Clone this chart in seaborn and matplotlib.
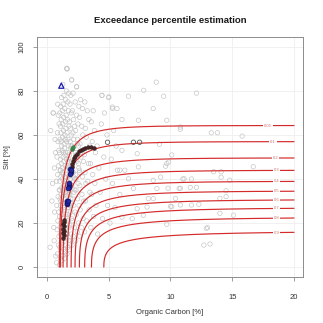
import numpy as np
import pandas as pd
import matplotlib
matplotlib.use("Agg")
import matplotlib.pyplot as plt
import seaborn as sns

# ---- observations: organic carbon [%] vs silt [%] ----
oc_obs = [
    0.25, 0.40, 0.50, 0.55, 0.60, 0.65, 0.30, 0.70, 0.45, 0.62, 0.68, 0.58,
    0.78, 0.85, 0.92, 0.97, 0.82, 0.88, 0.95, 0.80, 0.90, 0.99, 0.76, 0.86, 0.93, 0.81, 0.96, 0.89, 0.84, 0.98, 0.91, 0.87,
    1.02, 1.08, 1.15, 1.04, 1.18, 1.11, 1.06, 1.13, 1.01, 1.17, 1.09, 1.05, 1.14, 1.19, 1.03, 1.12, 1.07, 1.16, 1.10, 1.02, 1.18, 1.06, 1.13, 1.09, 1.15, 1.04, 1.11, 1.17,
    1.22, 1.28, 1.35, 1.24, 1.38, 1.31, 1.26, 1.33, 1.21, 1.37, 1.29, 1.25, 1.34, 1.39, 1.23, 1.32, 1.27, 1.36, 1.30, 1.22, 1.38, 1.26, 1.33, 1.29, 1.35, 1.24, 1.31, 1.37, 1.28,
    1.42, 1.48, 1.55, 1.44, 1.58, 1.51, 1.46, 1.53, 1.41, 1.57, 1.49, 1.45, 1.54, 1.59, 1.43, 1.52, 1.47, 1.56, 1.50, 1.42, 1.58, 1.46, 1.53, 1.49, 1.55, 1.44, 1.51, 1.57,
    1.62, 1.68, 1.75, 1.64, 1.78, 1.71, 1.66, 1.73, 1.61, 1.77, 1.69, 1.65, 1.74, 1.79, 1.63, 1.72, 1.67, 1.76, 1.70, 1.62, 1.78, 1.66, 1.73, 1.69, 1.75, 1.62,
    1.82, 1.88, 1.95, 1.84, 1.98, 1.91, 1.86, 1.93, 1.81, 1.97, 1.89, 1.85, 1.94, 1.99, 1.83, 1.92, 1.87, 1.96, 1.90, 1.82, 1.98, 1.86, 1.93, 2.00,
    2.03, 2.12, 2.22, 2.06, 2.27, 2.16, 2.09, 2.19, 2.02, 2.25, 2.13, 2.07, 2.21, 2.29, 2.04, 2.17, 2.10, 2.24, 2.14, 2.05, 2.28, 2.11,
    2.33, 2.45, 2.56, 2.38, 2.59, 2.48, 2.35, 2.52, 2.31, 2.57, 2.42, 2.36, 2.54, 2.47, 2.32, 2.50, 2.40, 2.58, 2.40,
    2.64, 2.78, 2.92, 2.69, 2.97, 2.83, 2.66, 2.88, 2.62, 2.95, 2.74, 2.67, 2.90, 2.81, 2.63, 2.86, 2.72,
    3.05, 3.22, 3.41, 3.12, 3.47, 3.30, 3.08, 3.36, 3.02, 3.44, 3.18, 3.10, 3.39, 3.26, 3.06,
    3.55, 3.78, 3.96, 3.62, 3.88, 3.70, 3.52, 3.92, 3.66, 3.84, 3.58, 3.74,
    4.10, 4.50, 4.90, 4.30, 4.75, 4.20, 4.60, 4.05, 4.85, 4.40, 4.65, 4.45,
    5.10, 5.50, 5.90, 5.30, 5.70, 5.20, 5.60, 5.40, 5.30, 5.00,
    1.60, 0.50, 1.62, 2.00, 2.40, 5.00, 4.45, 5.30,
    6.6, 7.83, 8.85, 9.45, 12.1, 8.6, 6.07, 7.4, 9.7, 5.67, 10.8, 13.8,
    13.3, 15.8, 10.8, 10.1, 9.7, 16.7, 13.5, 14.1, 14.1, 11.0, 11.7, 14.8, 9.8, 10.8, 11.6, 12.1, 14.5, 14.5,
    14.0, 10.4, 10.1, 10.8, 11.7, 12.3, 14.0, 15.1, 9.7, 12.9, 12.7, 13.2,
    9.1, 6.07, 7.3, 9.85, 9.6, 7.4, 6.3, 5.9, 6.6, 8.6, 9.2, 11.1, 7.0, 8.9, 10.7, 8.2, 8.6,
    7.3, 8.1, 10.0, 6.07, 6.9, 7.8, 13.0,
    1.05, 1.25, 1.45, 1.65, 1.85, 2.15, 2.55, 1.15, 1.35, 1.55, 1.75, 1.95, 2.35, 2.75,
    1.12, 1.32, 1.52, 1.72, 1.92, 2.25, 2.65, 3.15, 1.08, 1.28, 1.48, 1.68, 1.88, 2.45,
]
silt_obs = [
    9, 30, 70, 18, 45, 58, 62, 5, 38, 25, 52, 12,
    2, 6, 10, 14, 17, 21, 25, 28, 32, 35, 39, 42, 46, 50, 53, 57, 61, 65, 69, 74,
    1, 4, 7, 9, 12, 15, 18, 20, 23, 26, 28, 31, 33, 36, 39, 41, 44, 47, 49, 52, 55, 58, 61, 64, 67, 70, 73, 77,
    3, 5, 8, 11, 13, 16, 19, 22, 24, 27, 29, 32, 34, 37, 40, 42, 45, 48, 50, 53, 56, 59, 62, 65, 68, 71, 74, 78, 83,
    4, 7, 10, 13, 15, 18, 21, 24, 26, 29, 31, 34, 36, 39, 41, 44, 46, 49, 52, 54, 57, 60, 63, 66, 69, 72, 76, 80,
    6, 9, 12, 15, 18, 21, 24, 27, 30, 33, 35, 38, 41, 43, 46, 49, 52, 55, 58, 61, 64, 67, 71, 75, 79, 90,
    8, 12, 15, 19, 22, 25, 28, 31, 34, 37, 40, 43, 46, 48, 51, 54, 57, 60, 63, 66, 70, 74, 78, 85,
    10, 14, 18, 21, 25, 28, 31, 34, 37, 40, 43, 46, 49, 52, 55, 58, 61, 64, 67, 71, 75, 79,
    12, 16, 20, 24, 28, 31, 35, 38, 42, 45, 48, 51, 55, 58, 62, 65, 69, 73, 82,
    14, 18, 22, 26, 30, 33, 37, 41, 44, 48, 52, 56, 60, 64, 68, 72, 76,
    16, 21, 26, 30, 34, 39, 43, 47, 51, 55, 59, 63, 67, 71, 75,
    18, 23, 28, 33, 38, 42, 47, 52, 57, 62, 66, 71,
    15, 22, 28, 34, 40, 45, 50, 55, 60, 65, 70, 78,
    20, 27, 33, 38, 44, 49, 55, 62, 72, 77,
    90.3, 70, 90, 85, 81.8, 77.3, 78, 72.7,
    77.6, 80.3, 84, 77.6, 79, 72, 67, 66.7, 66.7, 72, 63.6, 61,
    61, 59.5, 62.6, 50.9, 47, 45.6, 43.3, 43.3, 40.8, 40, 40, 39.5, 35.8, 35.8, 36.2, 36.2, 34.7, 32,
    31.2, 31.2, 27.4, 28.2, 28.2, 28.5, 24.4, 23.6, 19.5, 17.6, 10, 10.5,
    55.8, 53, 51.5, 47.7, 45.8, 45.5, 44, 44, 40.1, 39.4, 40.9, 40.1, 35.7, 35.7, 35.7, 31.1, 31.1,
    26.5, 27.3, 27.6, 22.7, 22, 23.5, 17.9,
    35, 43, 51, 27, 33, 41, 47, 57, 37, 23, 45, 55, 40, 50,
    30, 52, 38, 48, 29, 35, 43, 38, 44, 35, 58, 32, 40, 56,
]

# ---- highlighted samples ----
tri_oc, tri_silt = [1.16], [82.4]
blue_oc = [1.88, 1.92, 1.85, 1.95, 1.75, 1.80, 1.72, 1.78, 1.60, 1.65, 1.58, 1.68]
blue_silt = [44.5, 43.2, 42.5, 44.0, 37.5, 36.2, 35.8, 38.3, 30.0, 28.8, 29.2, 29.8]
brown_oc = [1.32, 1.35, 1.30, 1.37, 1.33, 1.36, 1.31, 1.38, 1.34,
            2.00, 2.05, 2.10, 2.20, 2.30, 2.45, 2.60, 2.75, 2.90, 3.10, 3.30, 3.55, 3.80]
brown_silt = [13.0, 14.5, 15.5, 16.5, 17.5, 18.5, 19.5, 20.5, 21.5,
              45.5, 47.0, 48.2, 49.5, 50.5, 51.5, 52.5, 53.2, 53.8, 54.3, 54.6, 54.4, 54.0]
dark_oc, dark_silt = [4.9, 7.0, 7.5], [56.7, 56.7, 56.7]
green_oc, green_silt = [2.05, 2.12], [53.5, 54.6]

# ---- exceedance percentile curves ----
levels = ["0.05", "0.1", "0.2", "0.3", "0.4", "0.5", "0.6", "0.7", "0.8", "0.9"]
start_oc = [1.00, 1.08, 1.30, 1.62, 1.95, 2.27, 2.62, 3.05, 3.60, 4.60]
plateau = [64.3, 57.0, 49.6, 44.0, 39.0, 34.6, 30.7, 27.0, 22.7, 16.4]
bend = [0.35, 0.38, 0.42, 0.46, 0.50, 0.55, 0.62, 0.70, 0.80, 1.10]
shape = [0.53, 0.52, 0.51, 0.50, 0.50, 0.49, 0.48, 0.47, 0.46, 0.45]
label_oc = [17.9, 18.3, 18.5, 18.6, 18.6, 18.6, 18.6, 18.6, 18.6, 18.6]


def curve(x, x0, a, s, p):
    d = np.clip(x - x0, 0, None)
    return a * (1 - np.exp(-(d / s) ** p))


rows = []
for lev, x0, a, s, p in zip(levels, start_oc, plateau, bend, shape):
    xs = x0 + np.concatenate([[0.0], np.geomspace(1e-4, 20 - x0, 300)])
    for xv, yv in zip(xs, curve(xs, x0, a, s, p)):
        rows.append((lev, xv, yv))
curves = pd.DataFrame(rows, columns=["level", "oc", "silt"])

obs = pd.DataFrame({"oc": oc_obs, "silt": silt_obs})

sns.set_style("white")
plt.rcParams["font.family"] = ["Liberation Sans", "DejaVu Sans"]

fig = plt.figure(figsize=(3.23, 3.23), dpi=100)
ax = fig.add_axes([37 / 323, 46 / 323, 266 / 323, 240 / 323])

# light grid at tick positions
for xv in [0, 5, 10, 15, 20]:
    ax.axvline(xv, color="#efefef", lw=0.6, zorder=0)
for yv in [0, 20, 40, 60, 80, 100]:
    ax.axhline(yv, color="#efefef", lw=0.6, zorder=0)

sns.scatterplot(data=obs, x="oc", y="silt", ax=ax, marker="o", s=10,
                facecolor="none", edgecolor="#c2c2c2", linewidth=0.45, zorder=1)

sns.lineplot(data=curves, x="oc", y="silt", units="level", estimator=None,
             sort=False, color="#d42a2a", lw=0.85, ax=ax, zorder=3)

for lev, x0, a, s, p, lx in zip(levels, start_oc, plateau, bend, shape, label_oc):
    ly = float(curve(np.array([lx]), x0, a, s, p)[0])
    ax.text(lx, ly, lev, fontsize=3.0, color="#cc7070", ha="center", va="center",
            zorder=4, bbox=dict(facecolor="white", edgecolor="none", pad=0.6))

sns.scatterplot(x=brown_oc, y=brown_silt, ax=ax, s=7, color="#4a2424",
                edgecolor="#2a1a1a", linewidth=0.4, zorder=5)
sns.scatterplot(x=dark_oc, y=dark_silt, ax=ax, s=10, facecolor="none",
                edgecolor="#555555", linewidth=0.6, zorder=5)
sns.scatterplot(x=green_oc, y=green_silt, ax=ax, s=7, color="#3c8c4c",
                edgecolor="#2c6c3c", linewidth=0.4, zorder=5)
sns.scatterplot(x=blue_oc, y=blue_silt, ax=ax, s=12, color="#2626a0",
                edgecolor="#101060", linewidth=0.5, zorder=6)
sns.scatterplot(x=tri_oc, y=tri_silt, ax=ax, marker="^", s=14,
                facecolor="none", edgecolor="#1c1cb0", linewidth=0.9, zorder=6)

ax.set_xlim(-0.81, 20.73)
ax.set_ylim(-4.5, 104.5)
ax.set_xticks([0, 5, 10, 15, 20])
ax.set_yticks([0, 20, 40, 60, 80, 100])
for sp in ax.spines.values():
    sp.set_color("#8c8c8c")
    sp.set_linewidth(0.7)
ax.tick_params(axis="both", length=3, width=0.6, color="#8c8c8c",
               labelsize=5.5, labelcolor="#333333", direction="out",
               bottom=True, left=True)
ax.tick_params(axis="x", pad=9)
ax.tick_params(axis="y", pad=5)
for lab in ax.get_yticklabels():
    lab.set_rotation(90)
    lab.set_va("center")
ax.set_xlabel("Organic Carbon [%]", fontsize=5.5, color="#333333", labelpad=6)
ax.set_ylabel("Silt [%]", fontsize=5.5, color="#333333", labelpad=6)
ax.set_title("Exceedance percentile estimation", fontsize=6.8,
             fontweight="bold", color="#1a1a1a", pad=10)

fig.savefig("out.png", dpi=100, facecolor="white")
